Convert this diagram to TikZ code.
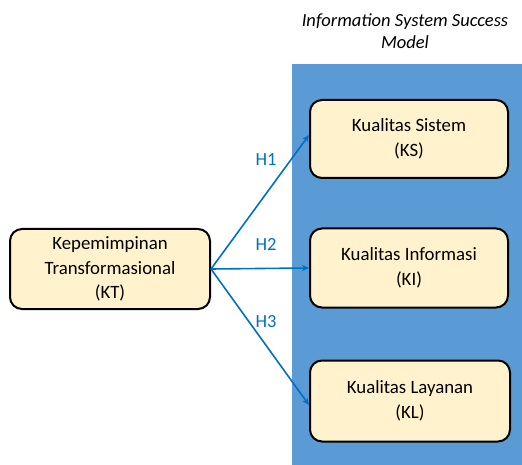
\documentclass[tikz,border=0pt]{standalone}
\usepackage{fontspec}
\setmainfont{Carlito}
\usetikzlibrary{arrows.meta}
\definecolor{panelblue}{HTML}{5B9BD5}
\definecolor{boxfill}{HTML}{FFF2CC}
\definecolor{arrowblue}{HTML}{0070C0}
\begin{document}
\begin{tikzpicture}[x=1pt,y=-1pt,
  varbox/.style={draw=black, line width=2pt, fill=boxfill, rounded corners=12pt,
    minimum width=200pt, minimum height=80pt, align=center, inner sep=0pt,
    font=\fontsize{18.8}{24.5}\selectfont},
  hyp/.style={draw=arrowblue, line width=1.6pt, -{Stealth[length=7pt,width=6pt]}},
  hlabel/.style={text=arrowblue, font=\fontsize{18.5}{20}\selectfont}]
\useasboundingbox (0,0) rectangle (522,465);
\fill[panelblue] (292,64) rectangle (522,465);
\node[font=\fontsize{18.5}{22.5}\selectfont\itshape, align=center] (title) at (405,31) {Information System Success\\Model};
\node[varbox] (KT) at (110,269) {Kepemimpinan\\Transformasional\\(KT)};
\node[varbox, minimum width=198pt, minimum height=78pt] (KS) at (409,139) {Kualitas Sistem\\(KS)};
\node[varbox, minimum width=198pt, minimum height=79pt] (KI) at (409,268) {Kualitas Informasi\\(KI)};
\node[varbox, minimum width=200pt, minimum height=81pt] (KL) at (410,401) {Kualitas Layanan\\(KL)};
\coordinate (src) at (KT.east);
\draw[hyp] (src) -- ([yshift=4pt]KS.west);
\draw[hyp] (src) -- (KI.west);
\draw[hyp] (src) -- ([yshift=-4pt]KL.west);
\node[hlabel] (h1) at (266,160) {H1};
\node[hlabel] (h2) at (266,244) {H2};
\node[hlabel] (h3) at (266,322) {H3};
\end{tikzpicture}
\end{document}
